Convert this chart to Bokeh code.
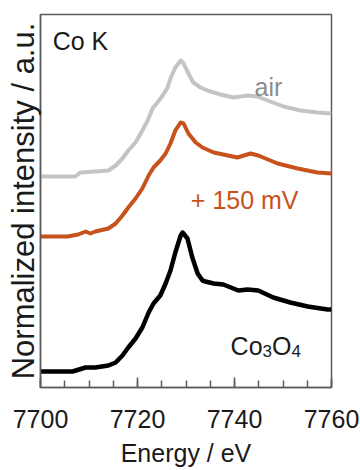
from bokeh.plotting import figure
from bokeh.models import SingleIntervalTicker, FixedTicker, Range1d, Label
from bokeh.embed import file_html
from bokeh.resources import INLINE

# ---- data (energy in eV, normalized intensity with vertical offsets, a.u.) ----
air_energy = [7700.0, 7704.1, 7707.2, 7708.2, 7711.3, 7714.0, 7715.5, 7716.9, 7718.1,
              7719.6, 7721.0, 7722.1, 7723.1, 7724.1, 7725.2, 7726.2, 7726.8, 7727.8,
              7728.9, 7729.5, 7730.5, 7731.5, 7733.0, 7734.4, 7737.1, 7739.8, 7742.7,
              7744.7, 7746.8, 7750.1, 7753.6, 7757.1, 7760.0]
air_intensity = [211, 211, 211, 215, 216, 217, 222, 229, 237,
                 245, 257, 267, 279, 285, 292, 300, 309, 320,
                 327, 324, 314, 305, 300, 297, 293, 290, 292,
                 291, 287, 281, 277, 275, 274]

mv150_energy = [7700.0, 7705.6, 7707.8, 7709.3, 7710.3, 7711.3, 7714.0, 7715.5, 7716.9,
                7718.1, 7719.6, 7721.0, 7722.3, 7723.3, 7724.7, 7725.8, 7726.8, 7727.8,
                7728.9, 7729.5, 7730.5, 7732.0, 7733.4, 7735.7, 7740.6, 7743.3, 7744.9,
                7748.9, 7753.0, 7757.1, 7760.0]
mv150_intensity = [151, 151, 153, 156, 154, 156, 159, 164, 172,
                   180, 189, 199, 212, 220, 227, 234, 244, 257,
                   265, 264, 254, 245, 240, 235, 230, 234, 232,
                   224, 219, 215, 214]

co3o4_energy = [7700.0, 7706.6, 7709.3, 7711.3, 7714.0, 7715.5, 7716.9, 7718.1, 7719.6,
                7721.0, 7722.3, 7723.3, 7724.7, 7725.8, 7726.8, 7727.8, 7728.9, 7729.3,
                7730.3, 7731.3, 7732.4, 7733.4, 7734.0, 7735.7, 7737.7, 7740.8, 7742.7,
                7744.9, 7748.0, 7751.5, 7755.1, 7759.2, 7760.0]
co3o4_intensity = [16, 16, 20, 20, 22, 25, 32, 40, 49,
                   60, 75, 84, 92, 104, 117, 135, 152, 155,
                   149, 130, 114, 107, 106, 104, 103, 97, 98,
                   97, 90, 85, 81, 78, 78]

x_major_ticks_interval = 20

FONT = "Liberation Sans"
GREY = "#c4c4c4"
ORANGE = "#c8521e"
FRAME = "#5c5c5c"
TEXT = "#1a1a1a"

p = figure(width=360, height=470, output_backend="svg", toolbar_location=None,
           x_range=Range1d(7700, 7760), y_range=Range1d(0, 373),
           min_border_left=40, min_border_right=29, min_border_top=14, min_border_bottom=83)

p.background_fill_color = "white"
p.border_fill_color = "white"
p.outline_line_color = FRAME
p.outline_line_width = 1.5
p.xgrid.visible = False
p.ygrid.visible = False

# spectra
p.line(air_energy, air_intensity, line_color=GREY, line_width=4, line_join="round")
p.line(mv150_energy, mv150_intensity, line_color=ORANGE, line_width=4, line_join="round")
p.line(co3o4_energy, co3o4_intensity, line_color="black", line_width=4.5, line_join="round")

# x axis
xa = p.xaxis[0]
xa.ticker = SingleIntervalTicker(interval=x_major_ticks_interval, num_minor_ticks=4)
xa.major_tick_in = 10
xa.major_tick_out = 0
xa.minor_tick_in = 7
xa.minor_tick_out = 0
xa.major_tick_line_color = FRAME
xa.minor_tick_line_color = FRAME
xa.major_tick_line_width = 1.5
xa.minor_tick_line_width = 1.5
xa.axis_line_color = FRAME
xa.axis_line_width = 1.5
xa.major_label_text_font = FONT
xa.major_label_text_font_size = "25px"
xa.major_label_text_color = TEXT
xa.major_label_standoff = 22
xa.axis_label = "Energy / eV"
xa.axis_label_text_font = FONT
xa.axis_label_text_font_size = "25px"
xa.axis_label_text_font_style = "normal"
xa.axis_label_text_color = TEXT
xa.axis_label_standoff = 8

# y axis (no ticks)
ya = p.yaxis[0]
ya.ticker = FixedTicker(ticks=[])
ya.major_tick_in = 0
ya.major_tick_out = 0
ya.minor_tick_in = 0
ya.minor_tick_out = 0
ya.major_label_text_font_size = "0px"
ya.major_label_standoff = 0
ya.axis_line_color = FRAME
ya.axis_line_width = 1.5
ya.axis_label = "Normalized intensity / a.u."
ya.axis_label_text_font = FONT
ya.axis_label_text_font_size = "31px"
ya.axis_label_text_font_style = "normal"
ya.axis_label_text_color = TEXT
ya.axis_label_standoff = 0

# annotations
p.add_layout(Label(x=7702.5, y=347, text="Co K", text_font=FONT, text_font_size="25px",
                   text_color=TEXT, text_baseline="middle", text_align="left"))
p.add_layout(Label(x=7747.0, y=301, text="air", text_font=FONT, text_font_size="25px",
                   text_color="#8c8c8c", text_baseline="middle", text_align="center"))
p.add_layout(Label(x=7742.1, y=188, text="+ 150 mV", text_font=FONT, text_font_size="25px",
                   text_color=ORANGE, text_baseline="middle", text_align="center"))

# Co3O4 with subscripts
cx, cy = 7739.2, 42
parts = [("Co", "25px", 0, 0), ("3", "17px", 32, -5), ("O", "25px", 41.5, 0), ("4", "17px", 61, -5)]
for t, fs, dx, dy in parts:
    p.add_layout(Label(x=cx, y=cy, x_offset=dx, y_offset=dy, text=t, text_font=FONT,
                       text_font_size=fs, text_color=TEXT,
                       text_baseline="alphabetic", text_align="left"))

open("out.html", "w").write(file_html(p, INLINE))
